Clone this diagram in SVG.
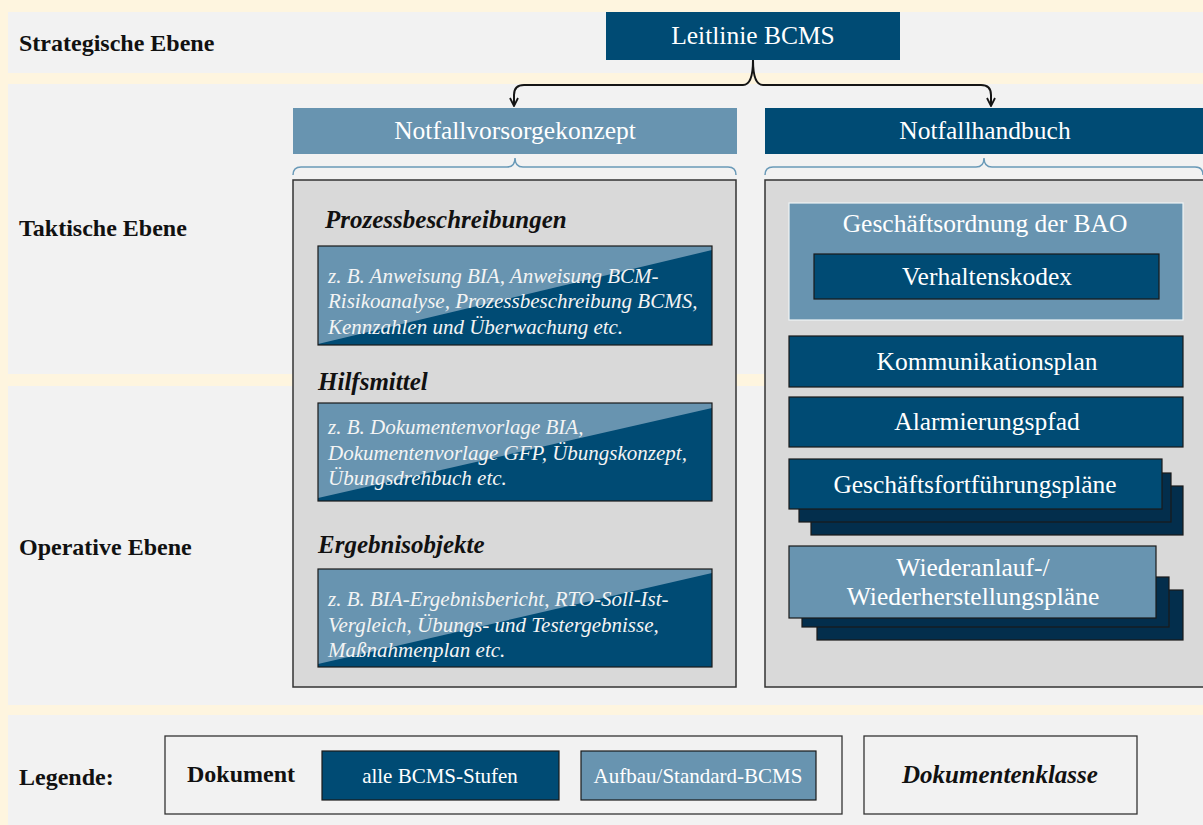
<svg xmlns="http://www.w3.org/2000/svg" width="1203" height="825" viewBox="0 0 1203 825">
  <defs>
    <style>
      .band { fill: #f2f2f2; }
      .lvl { font-family: "Liberation Serif", serif; font-weight: bold; font-size: 24px; fill: #111; }
      .dark { fill: #004b74; }
      .light { fill: #6894b0; }
      .deep { fill: #032e4c; stroke: #1a1a1a; stroke-width: 1.2; }
      .edge { stroke: #1a1a1a; stroke-width: 1.2; }
      .panel { fill: #d9d9d9; stroke: #333; stroke-width: 1.5; }
      .lbl { font-family: "Liberation Serif", serif; font-size: 25.5px; fill: #fff; text-anchor: middle; }
      .cls { font-family: "Liberation Serif", serif; font-weight: bold; font-style: italic; font-size: 25px; fill: #111; }
      .ex { font-family: "Liberation Serif", serif; font-style: italic; font-size: 21px; fill: #f4f4f4; }
      .leg { font-family: "Liberation Serif", serif; font-size: 21px; fill: #fff; text-anchor: middle; }
      .brace { fill: none; stroke: #6a9ab8; stroke-width: 1.5; }
      .conn { fill: none; stroke: #151515; stroke-width: 2; }
      .legbox { fill: #f2f2f2; stroke: #333; stroke-width: 1.3; }
    </style>
    <marker id="open-arrow" viewBox="0 0 10 10" refX="9" refY="5" markerWidth="10" markerHeight="10" markerUnits="userSpaceOnUse" orient="auto">
      <path d="M1,1 L9,5 L1,9" fill="none" stroke="#151515" stroke-width="1.8"/>
    </marker>
  </defs>

  <!-- background and level bands -->
  <rect width="1203" height="825" fill="#fef5df"/>
  <rect class="band" x="8" y="12" width="1195" height="61"/>
  <rect class="band" x="8" y="84" width="1195" height="290"/>
  <rect class="band" x="8" y="386" width="1195" height="319"/>
  <rect class="band" x="8" y="715" width="1195" height="110"/>

  <g id="level-labels">
    <text class="lvl" x="19" y="51">Strategische Ebene</text>
    <text class="lvl" x="19" y="236">Taktische Ebene</text>
    <text class="lvl" x="19" y="555">Operative Ebene</text>
  </g>

  <!-- connectors from the guideline to both document classes -->
  <g id="connectors">
    <path class="conn" d="M753,60 Q753,85 743,85 L524,85 Q514,85 514,95 L514,106" marker-end="url(#open-arrow)"/>
    <path class="conn" d="M753,60 Q753,85 763,85 L981,85 Q991,85 991,95 L991,106" marker-end="url(#open-arrow)"/>
    <path class="brace" d="M293,175 Q293,167 301,167 L507,167 Q515,167 515,158 Q515,167 523,167 L728,167 Q736,167 736,175"/>
    <path class="brace" d="M765,175 Q765,167 773,167 L976,167 Q984,167 984,158 Q984,167 992,167 L1195,167 Q1203,167 1203,175"/>
  </g>

  <g id="leitlinie">
    <rect class="dark" x="606" y="12" width="294" height="48"/>
    <text class="lbl" x="753" y="44" font-size="24">Leitlinie BCMS</text>
  </g>

  <g id="notfallvorsorgekonzept">
    <rect class="light" x="293" y="108" width="444" height="46"/>
    <text class="lbl" x="515" y="139">Notfallvorsorgekonzept</text>
  </g>

  <g id="notfallhandbuch">
    <rect class="dark" x="765" y="108" width="438" height="46"/>
    <text class="lbl" x="985" y="139">Notfallhandbuch</text>
  </g>

  <!-- left document class panel -->
  <g id="vorsorge-panel">
    <rect class="panel" x="293" y="180" width="443" height="507"/>
  </g>

  <g id="prozessbeschreibungen">
    <text class="cls" x="325" y="228">Prozessbeschreibungen</text>
    <rect class="dark" x="318" y="246" width="394" height="99"/>
    <polygon class="light" points="318,246 712,246 712,250 318,344"/>
    <rect x="318" y="246" width="394" height="99" fill="none" class="edge"/>
    <text class="ex" x="328" y="283">z. B. Anweisung BIA, Anweisung BCM-</text>
    <text class="ex" x="328" y="308">Risikoanalyse, Prozessbeschreibung BCMS,</text>
    <text class="ex" x="328" y="334">Kennzahlen und Überwachung etc.</text>
  </g>

  <g id="hilfsmittel">
    <text class="cls" x="318" y="390">Hilfsmittel</text>
    <rect class="dark" x="318" y="403" width="394" height="98"/>
    <polygon class="light" points="318,403 712,403 712,408 318,498"/>
    <rect x="318" y="403" width="394" height="98" fill="none" class="edge"/>
    <text class="ex" x="328" y="434">z. B. Dokumentenvorlage BIA,</text>
    <text class="ex" x="328" y="460">Dokumentenvorlage GFP, Übungskonzept,</text>
    <text class="ex" x="328" y="485">Übungsdrehbuch etc.</text>
  </g>

  <g id="ergebnisobjekte">
    <text class="cls" x="318" y="553">Ergebnisobjekte</text>
    <rect class="dark" x="318" y="569" width="394" height="98"/>
    <polygon class="light" points="318,569 712,569 712,573 318,664"/>
    <rect x="318" y="569" width="394" height="98" fill="none" class="edge"/>
    <text class="ex" x="328" y="606">z. B. BIA-Ergebnisbericht, RTO-Soll-Ist-</text>
    <text class="ex" x="328" y="632">Vergleich, Übungs- und Testergebnisse,</text>
    <text class="ex" x="328" y="657">Maßnahmenplan etc.</text>
  </g>

  <!-- right document class panel -->
  <g id="handbuch-panel">
    <rect class="panel" x="765" y="180" width="450" height="507"/>
  </g>

  <g id="geschaeftsordnung">
    <rect class="light" x="789" y="203" width="394" height="117" stroke="#eef3f6" stroke-width="1.2"/>
    <text class="lbl" x="985" y="232" font-size="25">Geschäftsordnung der BAO</text>
  </g>

  <g id="verhaltenskodex">
    <rect class="dark edge" x="814" y="254" width="345" height="45"/>
    <text class="lbl" x="987" y="285">Verhaltenskodex</text>
  </g>

  <g id="kommunikationsplan">
    <rect class="dark edge" x="789" y="336" width="394" height="51"/>
    <text class="lbl" x="987" y="370">Kommunikationsplan</text>
  </g>

  <g id="alarmierungspfad">
    <rect class="dark edge" x="789" y="397" width="394" height="50"/>
    <text class="lbl" x="987" y="430">Alarmierungspfad</text>
  </g>

  <g id="geschaeftsfortfuehrungsplaene">
    <rect class="deep" x="811" y="486" width="372" height="49"/>
    <rect class="deep" x="799" y="473" width="372" height="49"/>
    <rect class="dark edge" x="789" y="459" width="373" height="50"/>
    <text class="lbl" x="975" y="493">Geschäftsfortführungspläne</text>
  </g>

  <g id="wiederanlaufplaene">
    <rect class="deep" x="817" y="590" width="366" height="50"/>
    <rect class="deep" x="802" y="577" width="367" height="50"/>
    <rect class="light edge" x="789" y="546" width="367" height="72"/>
    <text class="lbl" x="973" y="576">Wiederanlauf-/</text>
    <text class="lbl" x="973" y="605">Wiederherstellungspläne</text>
  </g>

  <!-- legend -->
  <g id="legende">
    <text class="lvl" x="19" y="785">Legende:</text>
    <rect class="legbox" x="165" y="736" width="677" height="78"/>
    <text class="lvl" x="187" y="782">Dokument</text>
    <rect class="dark edge" x="322" y="751" width="237" height="49"/>
    <text class="leg" x="440" y="783">alle BCMS-Stufen</text>
    <rect class="light edge" x="581" y="751" width="235" height="49"/>
    <text class="leg" x="698" y="783">Aufbau/Standard-BCMS</text>
    <rect class="legbox" x="864" y="736" width="273" height="78"/>
    <text class="cls" x="1000" y="783" text-anchor="middle">Dokumentenklasse</text>
  </g>
</svg>
